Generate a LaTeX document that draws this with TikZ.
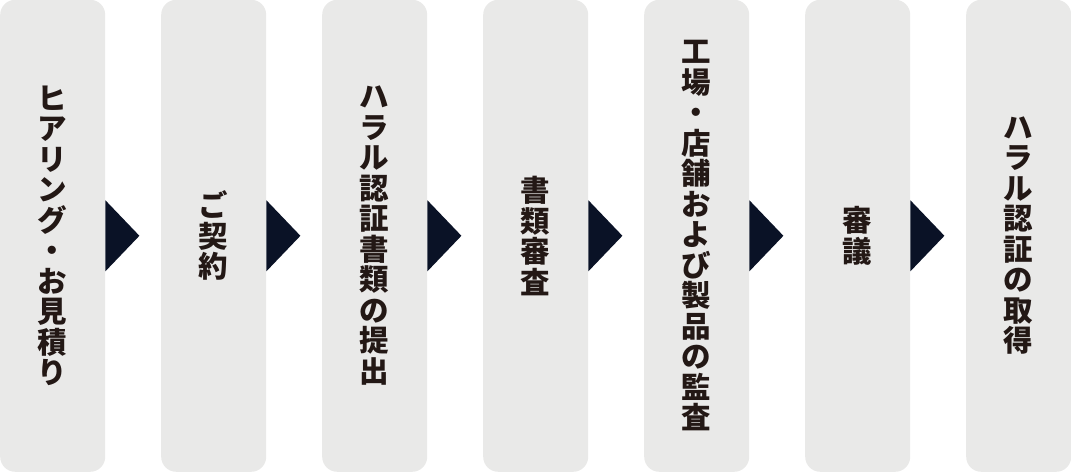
\documentclass[tikz,border=0pt]{standalone}
\usepackage{fontspec}
\newfontfamily\jp{Noto Sans CJK JP}
\definecolor{boxgray}{HTML}{E9E9E8}
\definecolor{navy}{HTML}{0A1226}
\definecolor{txt}{HTML}{231815}
\begin{document}
\begin{tikzpicture}[x=1bp,y=1bp,
  stepbox/.style={rectangle, fill=boxgray, rounded corners=15bp, minimum width=105bp, minimum height=472bp, inner sep=0pt, anchor=south west},
  vtext/.style={text=txt, align=center, inner sep=0pt, font=\jp\bfseries\fontsize{29.5bp}{30.5bp}\selectfont},
  arrowtri/.style={fill=navy}]
\useasboundingbox (0,0) rectangle (1071,473);
\foreach \i in {0,...,6} {
  \node[stepbox] (b\i) at (161*\i,1) {};
}
\node[vtext] (t0) at (b0.center) {ヒ\\ア\\リ\\ン\\グ\\・\\お\\見\\積\\り};
\node[vtext] (t1) at (b1.center) {ご\\契\\約};
\node[vtext] (t2) at (b2.center) {ハ\\ラ\\ル\\認\\証\\書\\類\\の\\提\\出};
\node[vtext] (t3) at (b3.center) {書\\類\\審\\査};
\node[vtext] (t4) at (b4.center) {工\\場\\・\\店\\舗\\お\\よ\\び\\製\\品\\の\\監\\査};
\node[vtext] (t5) at (b5.center) {審\\議};
\node[vtext] (t6) at (b6.center) {ハ\\ラ\\ル\\認\\証\\の\\取\\得};
\foreach \i in {0,...,5} {
  \fill[arrowtri] ([yshift=35.5bp]b\i.east) -- ([xshift=34bp]b\i.east) -- ([yshift=-35.5bp]b\i.east) -- cycle;
}
\end{tikzpicture}
\end{document}
